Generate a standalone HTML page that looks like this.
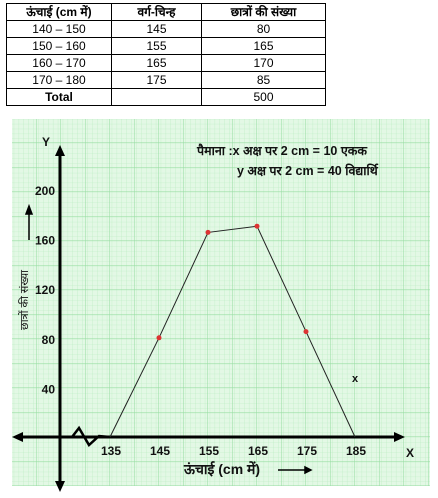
<!DOCTYPE html>
<html><head><meta charset="utf-8"><style>
body{margin:0;width:438px;height:498px;background:#fff;overflow:hidden;font-family:"Liberation Sans","Noto Sans CJK SC",sans-serif}
table{position:absolute;left:6px;top:3px;border-collapse:collapse;font-size:12px}
td{border:1px solid #000;height:16px;padding:0;text-align:center;line-height:16px}
</style></head><body>
<table>
<tr style="font-weight:bold"><td style="width:104px">ऊंचाई (cm में)</td><td style="width:89px">वर्ग-चिन्ह</td><td style="width:123px">छात्रों की संख्या</td></tr>
<tr><td>140 – 150</td><td>145</td><td>80</td></tr>
<tr><td>150 – 160</td><td>155</td><td>165</td></tr>
<tr><td>160 – 170</td><td>165</td><td>170</td></tr>
<tr><td>170 – 180</td><td>175</td><td>85</td></tr>
<tr><td style="font-weight:bold">Total</td><td></td><td>500</td></tr>
</table>
<svg id="chart" width="438" height="498" style="position:absolute;left:0;top:0">
<defs>
<pattern id="minor" x="110" y="437" width="4.9" height="4.9" patternUnits="userSpaceOnUse"><path d="M4.9 0V4.9H0" fill="none" stroke="#b6ecbd" stroke-width="0.6"/></pattern>
<pattern id="major" x="110" y="437" width="24.5" height="24.5" patternUnits="userSpaceOnUse"><rect width="24.5" height="24.5" fill="url(#minor)"/><path d="M24.5 0V24.5H0" fill="none" stroke="#94dca0" stroke-width="1"/></pattern>
</defs>
<rect x="12" y="119" width="418" height="367" fill="#e3f8e5"/>
<rect x="12" y="119" width="418" height="367" fill="url(#major)"/>
</svg>
<script>
const categories=[135,145,155,165,175,185];
const values=[0,80,165,170,85,0];
const xTicks=[135,145,155,165,175,185];
const yTicks=[40,80,120,160,200];
const X=v=>110+(v-135)*4.9;
const Y=v=>437-v*1.24;
const svg=document.getElementById('chart');
const NS='http://www.w3.org/2000/svg';
function mk(t,a){const e=document.createElementNS(NS,t);for(const k in a)e.setAttribute(k,a[k]);svg.appendChild(e);return e;}
let e;
e=mk('line',{x1:60,y1:485,x2:60,y2:152,stroke:'#000','stroke-width':3});


e=mk('path',{d:'M60 145 L55 156 L65 156Z M60 492 L55 481 L65 481Z',fill:'#000'});


e=mk('line',{x1:18,y1:437,x2:398,y2:437,stroke:'#000','stroke-width':3});


e=mk('path',{d:'M12 437 L23 432 L23 442Z M405 437 L394 432 L394 442Z',fill:'#000'});


e=mk('path',{d:'M60 437 L72 437 L79 428 L89 445 L99 436 L110 437',fill:'none',stroke:'#000','stroke-width':2.5});


let d='';categories.forEach((c,i)=>{d+=(i?'L':'M')+X(c)+' '+Y(values[i])+' ';});
e=mk('path',{d:d,fill:'none',stroke:'#222','stroke-width':1});


categories.forEach((c,i)=>{if(values[i]>0){const p=mk('circle',{cx:X(c),cy:Y(values[i]),r:2.5,fill:'#d33'});

}});
xTicks.forEach(t=>{const l=mk('text',{x:X(t)+1,y:455,'font-size':12,'font-weight':'bold','text-anchor':'middle',fill:'#111'});l.textContent=t;

});
yTicks.forEach(t=>{const l=mk('text',{x:55,y:Y(t)+6,'font-size':12,'font-weight':'bold','text-anchor':'end',fill:'#111'});l.textContent=t;

});
function txt(x,y,s,name,extra){const l=mk('text',Object.assign({x:x,y:y,'font-size':12,'font-weight':'bold',fill:'#111'},extra||{}));l.textContent=s;

return l;}
txt(42,146,'Y','y-axis-letter');
txt(406,457,'X','x-axis-letter');
txt(352,382,'x','stray-x-mark',{'font-size':11});
txt(197,155,'पैमाना :x अक्ष पर 2 cm = 10  एकक','scale-note-x',{'font-size':12.5});
txt(237,175,'y अक्ष पर 2 cm = 40 विद्यार्थि','scale-note-y',{'font-size':12.5});
txt(184,474,'ऊंचाई (cm में)','x-axis-title',{'font-size':14});
e=mk('path',{d:'M278 470 L311 470 M311 470 L305 467 L305 473Z',stroke:'#000','stroke-width':1.5,fill:'#000'});


txt(0,0,'छात्रों की संख्या','y-axis-title',{'font-size':11,'font-weight':'normal',transform:'translate(28,330) rotate(-90)'});
e=mk('path',{d:'M29 240 L29 212 M29 206 L26 214 L32 214Z',stroke:'#000','stroke-width':1.5,fill:'#000'});


</script>
</body></html>
